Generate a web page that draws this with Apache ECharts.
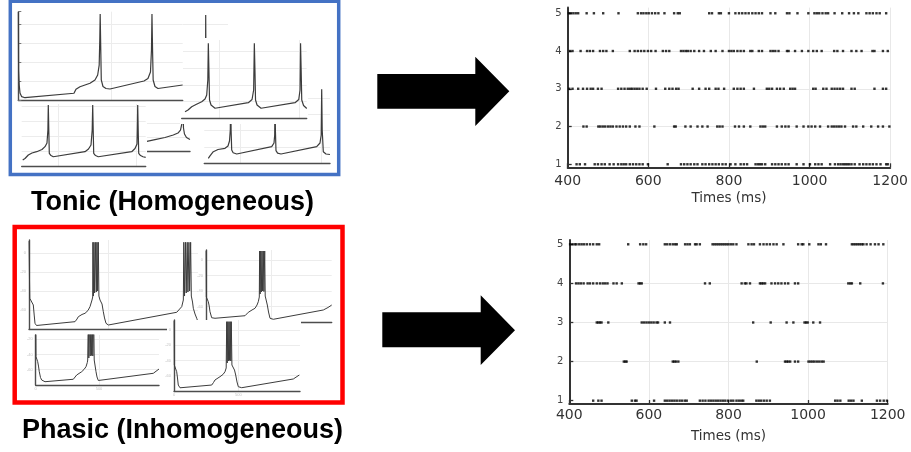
<!DOCTYPE html>
<html>
<head>
<meta charset="utf-8">
<script src="https://cdn.jsdelivr.net/npm/echarts@6/dist/echarts.min.js"></script>
<style>
  html, body { margin: 0; padding: 0; background: #ffffff; }
  #c { width: 911px; height: 452px; }
</style>
</head>
<body>
<div id="c"></div>
<script>
// ---------- membrane potential traces: [time (ms), voltage (mV)] ----------
// tonic (homogeneous) neurons
const tonicA = [[0.5,12.6],[1.6,-48.4],[4.9,-64.2],[9.2,-72.6],[18.3,-76.5],[36.1,-77.6],[300.4,-72.9],[311.2,-68.7],[332.8,-66],[386.8,-62.4],[413.7,-58.9],[428.3,-53.7],[436.4,-43.2],[439.6,-16.8],[441.8,10.5],[445,-27.4],[447.7,-58.9],[456.9,-65.8],[473.1,-67.9],[494.6,-68.4],[678,-60],[699.6,-57.4],[713.1,-50.5],[718.5,-27.4],[721.2,10.5],[724.4,-27.4],[727.6,-58.9],[737.4,-65.8],[753.6,-67.9],[886.8,-64.2]];
const tonicB = [[284.8,-72.1],[303.6,-70.1],[326.8,-66.1],[353.8,-63.5],[389.6,-60.1],[410.3,-56.9],[420.9,-52.1],[427.8,-34.1],[431,9.9],[434.7,-22.1],[438.5,-58.1],[447.9,-64.1],[473,-68],[681.9,-61.3],[705.2,-57.5],[715.2,-46.1],[719.6,9.9],[723.4,-22.1],[727.1,-58.1],[736.5,-64.1],[761.6,-68],[974.9,-61.3],[998.1,-57.5],[1006.3,-46.1],[1009.4,9.9],[1013.2,-22.1],[1017,-58.1],[1028.3,-64.7],[1048.4,-68.3]];
const tonicC = [[273,-71.1],[287.6,-69.1],[308.7,-64.4],[332.3,-61.7],[362.2,-60],[396,-57.1],[415.2,-53.3],[427.9,-48.4],[433.7,-31.1],[436.2,2.3],[439.4,-31.1],[442.6,-62.1],[453.4,-65.1],[468.1,-66.7],[670.3,-60],[692.6,-56.4],[708.6,-51.1],[716.2,-31.1],[719.4,2.3],[722.6,-31.1],[725.8,-62.1],[737.3,-65.1],[755.1,-66.7],[968.2,-60],[989.2,-55.7],[1002,-49.7],[1003.9,-31.1],[1006.4,2.3],[1009.6,-31.1],[1012.8,-62.1],[1024.3,-65.1],[1040.2,-66.7],[1057.4,-67.5]];
const tonicD = [[306,-73.9],[316.4,-71],[336.6,-65.8],[365.4,-63.1],[408.2,-61.6],[426.6,-58.8],[435.7,-52.6],[440.6,-39.1],[443.1,11],[445.5,-39.1],[449.2,-63.7],[458,-67],[479.8,-68.6],[694,-59.6],[708.1,-55.1],[712.4,-45.3],[714.2,11],[716.6,-39.1],[720.3,-64.5],[730,-67.5],[750.9,-68.6],[969.4,-59.6],[989.6,-55.1],[996.9,-45.3],[1000,11],[1003.1,-39.1],[1009.8,-65.8],[1026.3,-68.6],[1050.8,-69.2]];
const tonicE = [[700,-65.7],[755.8,-62.8],[815.8,-59.7],[865.6,-56.1],[893.8,-53.3],[908.8,-49],[916.6,-40.4],[920.2,-6.1],[922,10],[923.8,-6.1],[926.8,-46.1],[932.8,-54.7],[944.8,-59.7],[965.8,-62.6]];
const tonicF = [[225,-70.3],[265,-65],[275,-58],[278,-22.9],[278.5,7.9],[279.5,-22.9],[281.5,-66.8],[300,-71.2]];
// phasic (inhomogeneous) neurons
const phasicP = [[0.5,12.6],[3.2,-28.4],[5,-47.7],[17,-49.5],[27.1,-54.7],[32.8,-65.3],[37.8,-74],[47.3,-76.3],[58.6,-76.8],[290,-72.3],[302.7,-69.5],[310.8,-67.1],[334.2,-64.7],[353.1,-63.5],[372,-60.5],[384.6,-56.5],[397.2,-49.5],[401.6,-46.3],[402.9,11.3],[406,-45.3],[409.8,11.3],[413.6,-42.1],[420.5,11.3],[424.3,-41.1],[428.7,11.3],[432.5,-40],[436.9,11.3],[440.7,-45.3],[447.7,-49.5],[460.3,-53.7],[468.5,-61.8],[476.1,-68.4],[485.5,-74],[500,-75.8],[931.3,-62.4],[962.8,-56.5],[972.9,-49.5],[976,11.3],[980.5,-45.3],[986.8,11.3],[991.2,-42.1],[997.5,11.3],[1001.9,-41.1],[1008.2,11.3],[1012.6,-40],[1018.9,11.3],[1023.3,-45.3],[1030.9,-51.6],[1035.9,-58.2],[1046.6,-64.2],[1057.3,-68.7],[1065.5,-72.6]];
const phasicQ = [[0.5,12],[2.3,-47.7],[11.4,-49.7],[17.5,-53.8],[24.4,-59.4],[30.4,-66.7],[43.4,-74.5],[57.1,-75.5],[68.5,-75.2],[296.8,-71.9],[312,-69.7],[321.9,-67.5],[350.1,-64.5],[372.9,-62.3],[388.2,-58.1],[398.1,-53.8],[405.7,-47.8],[408,11.6],[411.8,-43.9],[416.4,11.6],[421,-41.3],[426.2,11.6],[430.8,-40],[436.1,11.6],[440.7,-40.7],[446.8,11.6],[450.6,-46.5],[460.5,-49],[466.6,-58.1],[475.8,-67.1],[487.2,-75.2],[512.3,-76.5],[892.8,-64.5],[928.5,-61.3],[956.7,-58.1]];
const phasicR = [[0.5,12],[2.3,-46],[11.7,-48.6],[21,-54.8],[27.2,-63],[33.4,-72.2],[46.7,-75.8],[59.9,-76.5],[293.2,-72.2],[307.2,-68.9],[318.8,-65.6],[357.7,-61.3],[381,-58.4],[396.6,-54.8],[405.9,-49.9],[409.8,10.6],[413.7,-43.4],[418.4,10.6],[423,-40.8],[427.7,10.6],[432.3,-40.1],[437,10.6],[441.7,-40.8],[445.6,10.6],[450.3,-46],[461.1,-48.2],[470.4,-52.6],[479.8,-59.1],[489.9,-68.2],[500,-74.4],[526.4,-75.7],[927.7,-64.3],[974.3,-59.1]];
const phasicS = [[0.5,10],[2.4,-43],[10.3,-45.4],[15.8,-49.5],[22.1,-55.2],[28.4,-62.6],[37.9,-70.2],[47.4,-73.5],[73.5,-75.7],[297,-72.5],[310.5,-70.2],[323.9,-66.9],[363.4,-62.6],[381.6,-59.7],[397.4,-56.1],[407.6,-50.6],[410.8,-47.3],[415.5,10],[419.5,-44.7],[426.6,10],[430.6,-42.1],[436.9,10],[440.8,-41.4],[447.1,10],[451.1,-42.1],[458.2,10],[462.2,-47.3],[468.5,-49.9],[476.4,-62.6],[484.3,-69.5],[494.5,-74.1],[508,-74.8],[929,-64.7],[974.1,-59.1]];

// ---------- spike rasters: spike times (ms) per neuron ----------
const tonicSpikes1 = [422,430,443,467,475,484,492,504,514,525,533,539,545,554,562,570,578,586,599,648,681,689,697,705,714,722,734,742,751,759,767,775,784,792,804,816,829,837,845,866,872,877,882,890,907,915,923,931,940,948,968,985,1001,1014,1022,1030,1051,1063,1071,1077,1083,1088,1093,1098,1104,1112,1124,1133,1141,1149,1157,1166,1176,1190,1194];
const tonicSpikes2 = [439,447,476,481,487,493,500,506,512,521,529,537,545,554,568,578,615,664,668,692,705,722,734,747,771,777,784,815,825,837,853,878,884,890,919,931,940,948,968,985,997,1005,1014,1026,1046,1055,1061,1067,1073,1079,1088,1108,1116,1133,1153,1170,1182,1198];
const tonicSpikes3 = [404,412,426,438,448,457,463,475,484,525,533,541,549,555,560,566,572,578,586,596,619,642,652,660,669,675,710,726,742,751,767,774,788,812,821,829,837,862,894,900,907,919,927,936,952,958,964,1009,1015,1034,1042,1055,1062,1069,1076,1083,1104,1112,1161,1182,1190];
const tonicSpikes4 = [406,412,432,448,455,463,480,488,496,512,554,566,574,582,590,599,607,618,636,644,652,681,687,693,698,705,714,726,738,755,767,784,800,806,812,821,829,837,853,858,874,882,903,909,915,923,944,948,964,981,997,1009,1018,1030,1061,1069,1083,1104,1116,1129,1156,1161,1182,1194];
const tonicSpikes5 = [403,408,414,420,426,447,465,488,526,574,582,588,595,601,609,617,625,640,664,673,678,751,758,775,780,800,816,825,833,841,849,858,866,874,882,903,915,944,950,970,997,1012,1018,1024,1032,1040,1046,1062,1081,1098,1110,1121,1141,1149,1157,1166,1174,1190];

const phasicSpikes1 = [460,473,481,557,565,569,613,640,646,652,658,664,670,677,683,690,695,728,735,742,750,756,762,768,774,780,786,792,799,806,812,820,826,832,837,870,876,882,889,896,904,1068,1074,1081,1102,1108,1114,1135,1173,1181,1190,1198];
const phasicSpikes2 = [537,541,544,660,664,668,674,871,942,946,950,955,967,975,1001,1006,1011,1016,1022,1028,1034,1039];
const phasicSpikes3 = [469,473,477,481,498,582,588,594,600,606,612,619,623,640,653,862,906,946,963,991,995,999,1013,1030];
const phasicSpikes4 = [417,423,429,436,446,452,460,469,477,484,490,496,511,519,532,574,578,582,741,753,833,841,845,854,879,883,887,892,908,917,925,933,942,950,967,975,1101,1106,1110,1131,1188];
const phasicSpikes5 = [402,408,414,418,425,431,437,444,452,460,469,475,548,578,586,593,640,646,653,660,666,670,691,697,703,716,720,728,760,765,770,775,780,785,790,795,800,806,812,820,850,858,864,879,888,896,904,913,921,938,975,984,988,1003,1026,1032,1045,1110,1115,1120,1125,1130,1135,1139,1147,1157,1168,1177,1189];

const neuronIds = [1, 2, 3, 4, 5];
const timeTicks = [400, 600, 800, 1000, 1200];
const panelTitles = ['Tonic (Homogeneous)', 'Phasic (Inhomogeneous)'];

// ---------- layout of the stacked trace panels (drawn back to front) ----------
const insets = [
  { trace: tonicF, box: [150, 15, 78, 100],       x: [0, 390],        yMax: 7.9,   vgrid: [],          z: 10,  xLine: false, yLine: false, panel: null, lw: 1.2 },
  { trace: tonicE, box: [145.7, 118, 44.3, 33.7], x: [700, 966],      yMax: -31.8, vgrid: [],          z: 20,  xLine: true,  yLine: false, panel: [145, 114, 45.5, 42], lw: 1.2 },
  { trace: tonicD, box: [204.3, 89, 125.7, 74.3], x: [281.5, 1050.8], yMax: 11.2,  vgrid: [500, 1000], z: 30,  xLine: true,  yLine: false, panel: [200, 86, 131, 84], lw: 1.2 },
  { trace: tonicC, box: [21.7, 104, 124, 62.7],   x: [266.6, 1057.4], yMax: 3.6,   vgrid: [500, 1000], z: 40,  xLine: true,  yLine: false, panel: [16, 103, 131, 70], lw: 1.2 },
  { trace: tonicB, box: [181.7, 40, 125, 78.3],   x: [264, 1048],     yMax: 13.8,  vgrid: [500, 1000], z: 50,  xLine: true,  yLine: false, panel: [180, 38, 128, 86], lw: 1.2 },
  { trace: tonicA, box: [18.3, 11.7, 164.4, 88.3], x: [0, 887],       yMax: 13,    vgrid: [500],       z: 60,  xLine: true,  yLine: true,  yTick: true, panel: [12, 8, 171, 96], lw: 1.2 },
  { trace: phasicP, box: [29, 240, 171, 89],      x: [0, 1078],       yMax: 13.7,  vgrid: [500],       z: 70,  xLine: true,  yLine: true, tiny: true, panel: [20, 236, 181, 101], lw: 1 },
  { trace: phasicQ, box: [206, 250, 125.7, 72],   x: [0, 956.6],      yMax: 12.9,  vgrid: [500],       z: 80,  xLine: true,  yLine: true, tiny: true, panel: [198, 246, 135, 82], lw: 1 },
  { trace: phasicR, box: [174, 320, 126, 71],     x: [0, 979.8],      yMax: 12.8,  vgrid: [500],       z: 90,  xLine: true,  yLine: true, tiny: true, panel: [167, 320, 134, 78], lw: 1 },
  { trace: phasicS, box: [35.7, 335, 123.3, 50],  x: [0, 974],        yMax: -14.6, vgrid: [500],       z: 100, xLine: true,  yLine: true, tiny: true, panel: [26, 331, 136, 64], lw: 1 }
];

const grids = [], xAxes = [], yAxes = [], series = [], elements = [];
const faint = '#ececec';
const axisGray = '#4d4d4d';

insets.forEach((p, i) => {
  if (p.panel) {
    elements.push({ type: 'rect', z: p.z, silent: true,
      shape: { x: p.panel[0], y: p.panel[1], width: p.panel[2], height: p.panel[3] },
      style: { fill: '#ffffff' } });
  }
  grids.push({ left: p.box[0], top: p.box[1], width: p.box[2], height: p.box[3], z: p.z });
  xAxes.push({
    type: 'value', gridIndex: i, min: p.x[0], max: p.x[1], z: p.z + 1,
    interval: p.tiny ? 500 : undefined,
    axisLine: { show: p.xLine, onZero: false, lineStyle: { color: axisGray, width: 1.4 } },
    axisTick: { show: false },
    axisLabel: p.tiny ? { show: true, fontSize: 4, color: '#c4c4c4', margin: 2, showMaxLabel: false } : { show: false },
    splitLine: { show: false }
  });
  yAxes.push({
    type: 'value', gridIndex: i, min: -80, max: p.yMax, interval: 20, z: p.z + 1,
    axisLine: { show: p.yLine, onZero: false, lineStyle: { color: axisGray, width: 1.4 } },
    axisTick: { show: !!p.yTick, inside: true, length: 3, lineStyle: { color: '#777', width: 1 } },
    axisLabel: p.tiny ? { show: true, fontSize: 4, color: '#c4c4c4', margin: 3, showMinLabel: false, showMaxLabel: false } : { show: false },
    splitLine: { show: true, showMinLine: false, showMaxLine: false, lineStyle: { color: faint, width: 1 } }
  });
  series.push({
    type: 'line', xAxisIndex: i, yAxisIndex: i, data: p.trace, z: p.z + 2,
    symbol: 'none', silent: true, clip: true,
    lineStyle: { color: '#3c3c3c', width: p.lw },
    markLine: p.vgrid.length ? {
      z: p.z + 1, silent: true, symbol: 'none', animation: false,
      label: { show: false },
      lineStyle: { color: faint, type: 'solid', width: 1 },
      data: p.vgrid.map(v => ({ xAxis: v }))
    } : undefined
  });
});

// ---------- raster plots ----------
const rasters = [
  { spikes: [tonicSpikes1, tonicSpikes2, tonicSpikes3, tonicSpikes4, tonicSpikes5],
    box: { left: 567.7, top: 7.6, width: 324.6, height: 159.7 }, yRange: [0.92, 5.15], labelMargin: 7, nameGap: 24 },
  { spikes: [phasicSpikes1, phasicSpikes2, phasicSpikes3, phasicSpikes4, phasicSpikes5],
    box: { left: 569.3, top: 240, width: 318.4, height: 164 }, yRange: [0.915, 5.11], labelMargin: 4, nameGap: 25 }
];

rasters.forEach((r) => {
  const gi = grids.length;
  grids.push(Object.assign({ z: 0 }, r.box));
  xAxes.push({
    type: 'value', gridIndex: gi, min: timeTicks[0], max: timeTicks[timeTicks.length - 1], interval: 200,
    axisLine: { onZero: false, lineStyle: { color: '#333', width: 2 } },
    axisTick: { inside: true, length: 4, lineStyle: { color: '#333', width: 1.3 } },
    axisLabel: { fontSize: 14, color: '#333', fontFamily: 'DejaVu Sans', margin: r.labelMargin,
      formatter: v => String(v) },
    splitLine: { show: true, showMinLine: false, lineStyle: { color: '#e8e8e8', width: 1 } },
    name: 'Times (ms)', nameLocation: 'middle', nameGap: r.nameGap,
    nameTextStyle: { fontSize: 13.5, color: '#333', fontFamily: 'DejaVu Sans' }
  });
  yAxes.push({
    type: 'value', gridIndex: gi, min: r.yRange[0], max: r.yRange[1],
    axisLine: { onZero: false, lineStyle: { color: '#333', width: 2 } },
    axisTick: { inside: true, length: 4, customValues: neuronIds, lineStyle: { color: '#333', width: 1.3 } },
    axisLabel: { customValues: neuronIds, fontSize: 10, color: '#444', fontFamily: 'DejaVu Sans', margin: 6,
      formatter: v => (Number.isInteger(v) ? String(v) : '') },
    splitLine: { show: true, showMinLine: false, showMaxLine: false, lineStyle: { color: '#e8e8e8', width: 1 } }
  });
  const pts = [];
  r.spikes.forEach((times, k) => times.forEach(t => pts.push([t, neuronIds[k]])));
  series.push({
    type: 'scatter', xAxisIndex: gi, yAxisIndex: gi, data: pts, silent: true,
    symbol: 'rect', symbolSize: [2.4, 2.4], itemStyle: { color: '#000' }
  });
});

// ---------- frames, arrows and captions ----------
elements.push(
  { type: 'rect', z: 200, silent: true, shape: { x: 10.3, y: 1.2, width: 328.4, height: 173.3 },
    style: { fill: null, stroke: '#4472C4', lineWidth: 3.5 } },
  { type: 'rect', z: 200, silent: true, shape: { x: 14.7, y: 227, width: 327.8, height: 175.5 },
    style: { fill: null, stroke: '#FF0000', lineWidth: 4.5 } },
  { type: 'polygon', z: 200, silent: true,
    shape: { points: [[377.3, 74], [475.3, 74], [475.3, 56.7], [509.3, 91.3], [475.3, 126], [475.3, 108.7], [377.3, 108.7]] },
    style: { fill: '#000' } },
  { type: 'polygon', z: 200, silent: true,
    shape: { points: [[382.3, 312.3], [480.7, 312.3], [480.7, 295.3], [515, 330.2], [480.7, 365], [480.7, 347.3], [382.3, 347.3]] },
    style: { fill: '#000' } },
  { type: 'text', z: 200, silent: true, x: 172.5, y: 203,
    style: { text: panelTitles[0], fill: '#000', font: 'bold 27px "Liberation Sans", Arial, sans-serif', align: 'center', verticalAlign: 'middle' } },
  { type: 'text', z: 200, silent: true, x: 182.5, y: 431,
    style: { text: panelTitles[1], fill: '#000', font: 'bold 27px "Liberation Sans", Arial, sans-serif', align: 'center', verticalAlign: 'middle' } }
);

const chart = echarts.init(document.getElementById('c'), null, { renderer: 'canvas', width: 911, height: 452 });
chart.setOption({
  animation: false,
  backgroundColor: '#ffffff',
  grid: grids,
  xAxis: xAxes,
  yAxis: yAxes,
  series: series,
  graphic: { elements: elements }
});
</script>
</body>
</html>
